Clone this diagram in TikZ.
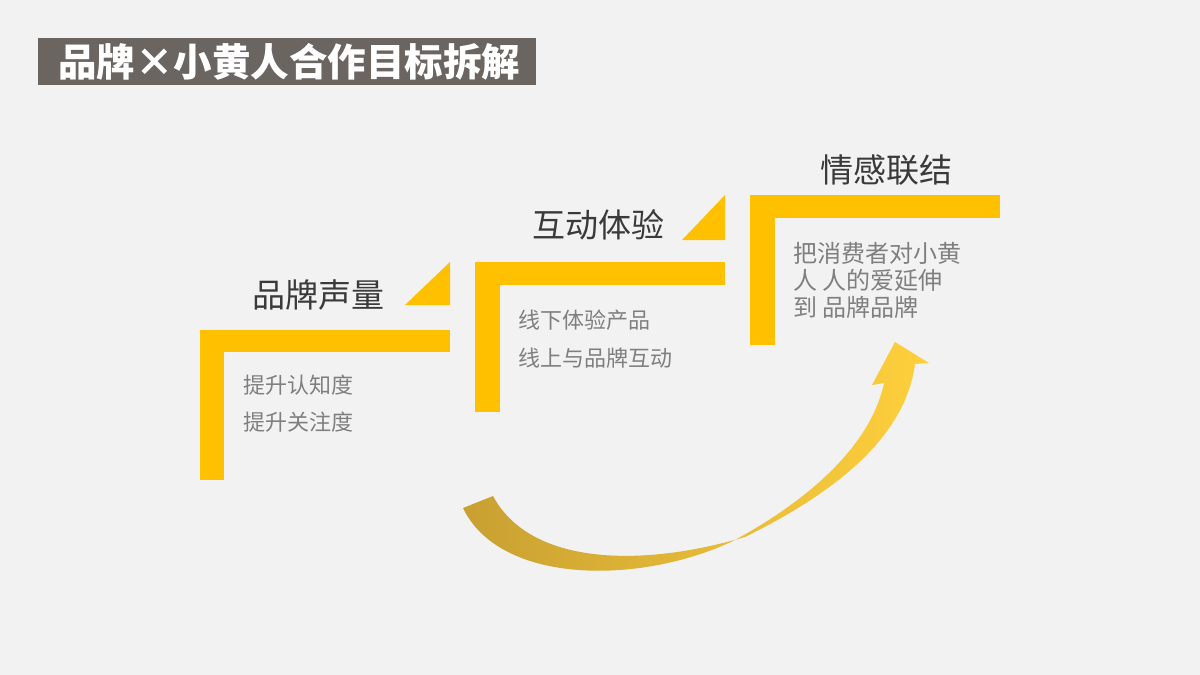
\documentclass[tikz,border=0pt]{standalone}
\usepackage{fontspec}
\setmainfont{Noto Sans CJK SC}
\begin{document}
\begin{tikzpicture}[x=1pt,y=-1pt,
  bar/.style={fill=barY,draw=none},
  head/.style={font=\fontsize{33}{35}\selectfont,text=headC,anchor=center},
  body/.style={font=\fontsize{22}{24}\selectfont,text=bodyC,anchor=west},
  bodyb/.style={font=\fontsize{24}{26}\selectfont,text=bodyC,anchor=west}]
\definecolor{barY}{HTML}{FFC000}
\definecolor{headC}{HTML}{3A3A3A}
\definecolor{bodyC}{HTML}{7F7F7F}
\definecolor{bg}{HTML}{F2F2F2}
\definecolor{titleC}{HTML}{6B6562}
\useasboundingbox (0,0) rectangle (1200,675);
\fill[bg] (0,0) rectangle (1200,675);
\fill[titleC] (38,38) rectangle (536,85);
\node[font=\bfseries\fontsize{38.5}{40}\selectfont,text=white,anchor=west,inner sep=0pt] (title) at (58,62) {品牌×小黄人合作目标拆解};
% step 1
\fill[bar] (200,330) rectangle (450,352);
\fill[bar] (200,330) rectangle (224,480);
\fill[bar] (405,305) -- (450,262) -- (450,305) -- cycle;
\node[head] (h1) at (318,295) {品牌声量};
\node[body] (t1a) at (240,385) {提升认知度};
\node[body] (t1b) at (240,422) {提升关注度};
% step 2
\fill[bar] (475,262) rectangle (725,285);
\fill[bar] (475,262) rectangle (500,412);
\fill[bar] (682,240) -- (725,195) -- (725,240) -- cycle;
\node[head] (h2) at (598,225) {互动体验};
\node[body] (t2a) at (515,320) {线下体验产品};
\node[body] (t2b) at (515,358) {线上与品牌互动};
% step 3
\fill[bar] (750,195) rectangle (1000,218);
\fill[bar] (750,195) rectangle (775,345);
\node[head] (h3) at (886,170) {情感联结};
\node[bodyb] (t3a) at (790,253) {把消费者对小黄};
\node[bodyb] (t3b) at (790,280) {人 人的爱延伸};
\node[bodyb] (t3c) at (790,307) {到 品牌品牌};
% arrow
\shade[left color={rgb,255:red,200;green,160;blue,50},right color={rgb,255:red,255;green,208;blue,60},draw=none]
 (463,508) .. controls (500,585) and (640,585) .. (733,541)
 .. controls (800,505) and (870,450) .. (884,383)
 -- (872,385) -- (895,342) -- (929,363) -- (915,364)
 .. controls (905,440) and (830,495) .. (745,537)
 .. controls (640,568) and (530,565) .. (493,496) -- cycle;
\end{tikzpicture}
\end{document}
